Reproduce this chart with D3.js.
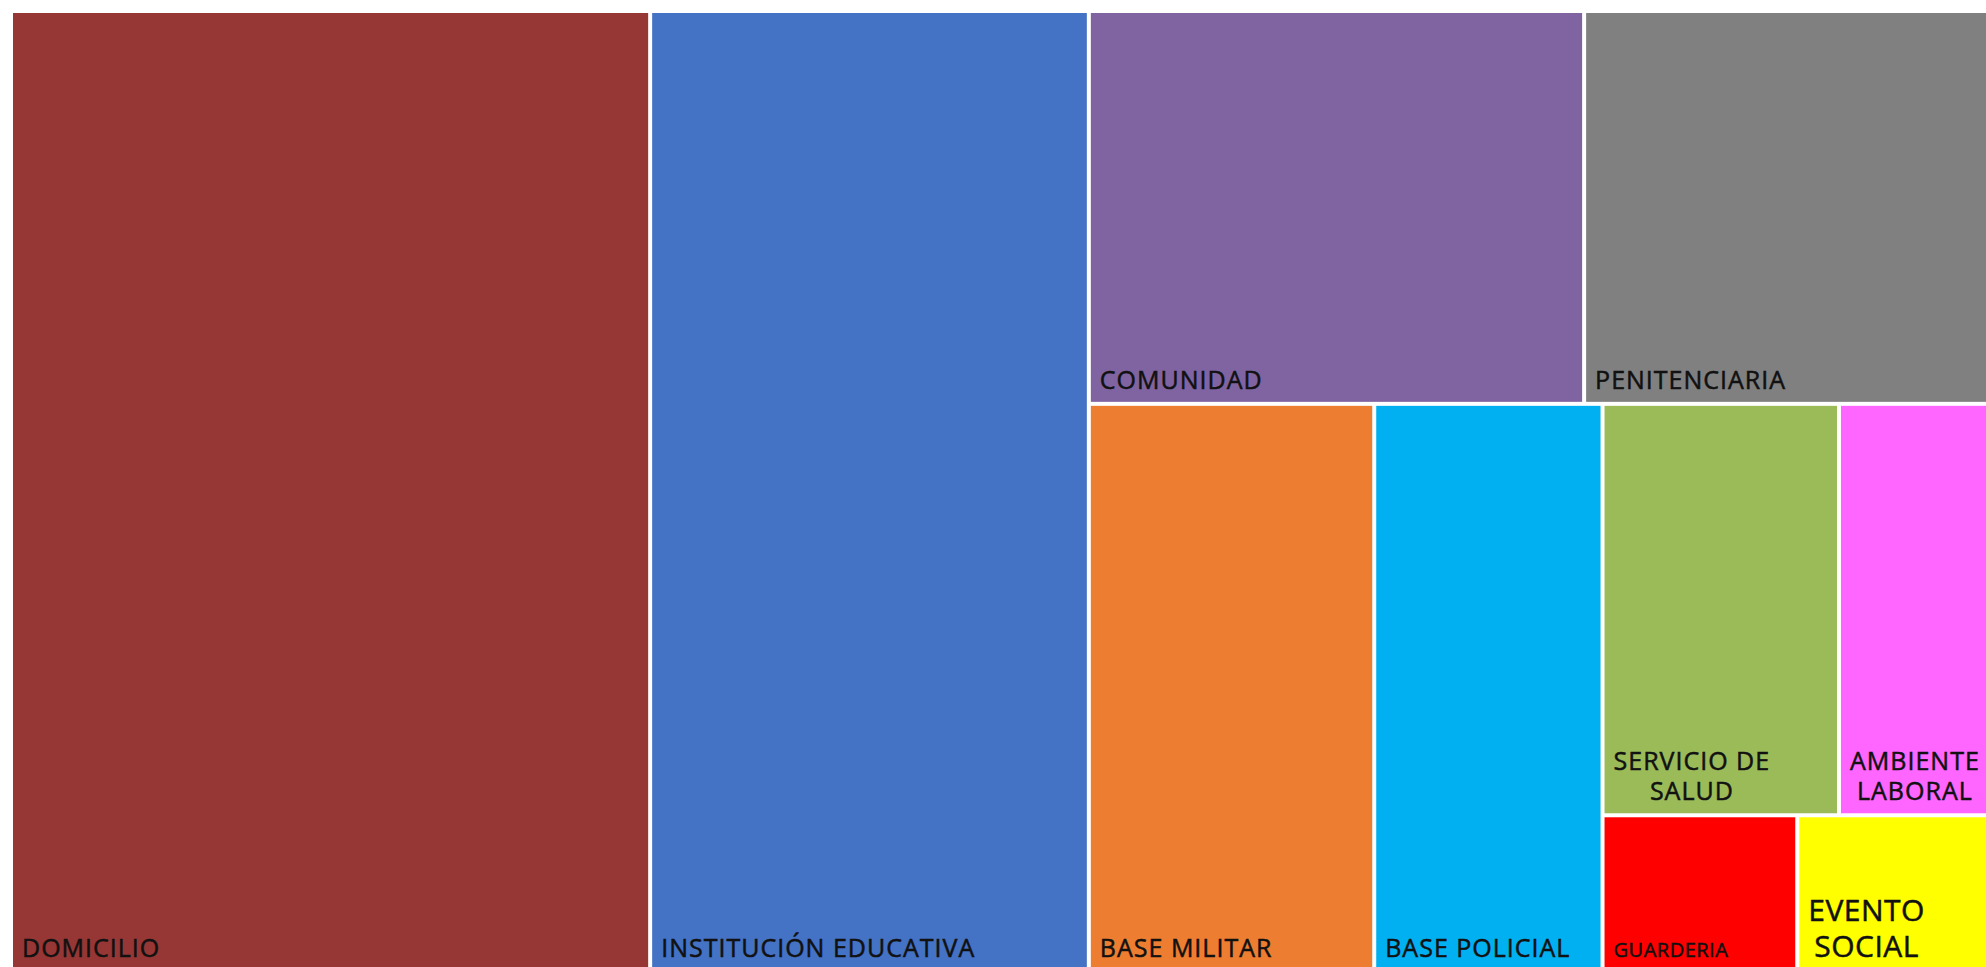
<!DOCTYPE html>
<html>
<head>
<meta charset="utf-8">
<script src="https://cdn.jsdelivr.net/npm/d3@7"></script>
<style>
body { margin: 0; background: #fff; overflow: hidden; }
.label { font-family: "Open Sans", sans-serif; font-weight: 400; fill: #111; stroke: #111; stroke-width: 0.5px; }
</style>
</head>
<body>
<div id="chart"></div>
<script>
var categories = ["DOMICILIO", "INSTITUCIÓN EDUCATIVA", "COMUNIDAD", "PENITENCIARIA", "BASE MILITAR",
	"BASE POLICIAL", "SERVICIO DE SALUD", "AMBIENTE LABORAL", "GUARDERIA", "EVENTO SOCIAL"];
// how the label text wraps inside each cell
var labelLines = [["DOMICILIO"], ["INSTITUCIÓN EDUCATIVA"], ["COMUNIDAD"], ["PENITENCIARIA"], ["BASE MILITAR"],
	["BASE POLICIAL"], ["SERVICIO DE", "SALUD"], ["AMBIENTE", "LABORAL"], ["GUARDERIA"], ["EVENTO", "SOCIAL"]];
var values = [32.2, 22.1, 10.2, 8.4, 8.5, 6.8, 5.1, 3.3, 1.6, 1.6];
var colors = ["#963735", "#4472C4", "#8064A2", "#808080", "#ED7D31",
	"#00B0F0", "#9BBB59", "#FF66FF", "#FF0000", "#FFFF00"];
var labelSizes = [25, 25, 25, 25, 25, 25, 25, 25, 20, 30];
var labelSpacing = [1, 1, 1, 1, 1, 1, 1, 1, 0.5, 0.5];

// grouping of cells into columns / rows, same arrangement as the original picture
var grouping = [0, 1, [[2, 3], [4, 5, [[6, 7], [8, 9]]]]];

var w = 1986;
var h = 967;
var offset = 13;
var mapW = 1977;
var mapH = 957;

var buildNode = function(g) {
	if (typeof g === "number") {
		return { name: categories[g], value: values[g], index: g };
	}
	return { children: g.map(buildNode) };
}

var root = d3.hierarchy(buildNode(grouping))
	.sum(function(d) { return d.value || 0; });

d3.treemap()
	.tile(d3.treemapSliceDice)
	.size([mapW, mapH])
	.paddingInner(4)(root);

var svg = d3.select("#chart").append("svg")
	.attr("width", w)
	.attr("height", h);

svg.append("rect")
	.attr("width", w)
	.attr("height", h)
	.attr("fill", "#fff");

var plot = svg.append("g")
	.attr("transform", "translate(" + offset + "," + offset + ")");

var cells = plot.selectAll("g.cell")
	.data(root.leaves())
	.enter()
	.append("g")
	.attr("class", "cell");

cells.append("rect")
	.attr("x", function(d) { return d.x0; })
	.attr("y", function(d) { return d.y0; })
	.attr("width", function(d) { return d.x1 - d.x0; })
	.attr("height", function(d) { return d.y1 - d.y0; })
	.attr("fill", function(d) { return colors[d.data.index]; });

cells.each(function(d) {
	var i = d.data.index;
	var size = labelSizes[i];
	var lines = labelLines[i];
	var lineH = size * 1.2;
	var left = d.x0 + 9;
	var bottom = d.y1 - 13;
	var txt = d3.select(this).append("text")
		.attr("class", "label")
		.style("font-size", size + "px")
		.style("letter-spacing", labelSpacing[i] + "px");
	var spans = lines.map(function(line, k) {
		return txt.append("tspan")
			.attr("y", bottom - (lines.length - 1 - k) * lineH)
			.attr("x", left)
			.text(line);
	});
	// center the shorter lines under the longest one
	var widths = spans.map(function(s) { return s.node().getComputedTextLength(); });
	var maxW = d3.max(widths);
	spans.forEach(function(s, k) {
		s.attr("x", left + (maxW - widths[k]) / 2);
	});
});
</script>
</body>
</html>
